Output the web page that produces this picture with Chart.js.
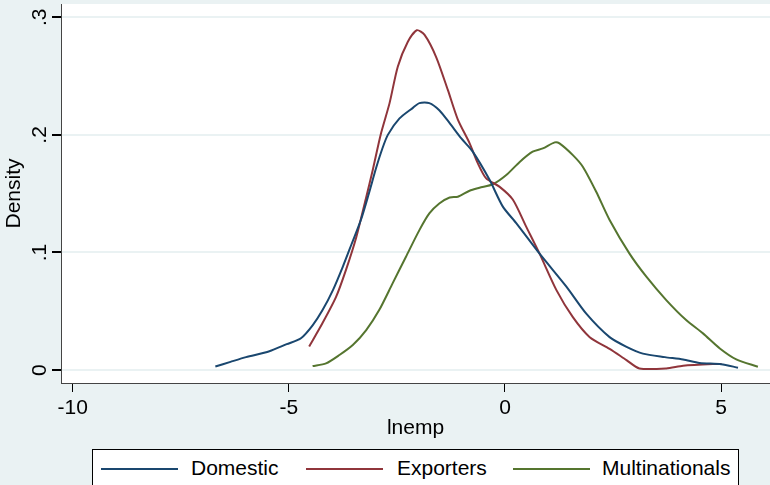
<!DOCTYPE html>
<html>
<head>
<meta charset="utf-8">
<script src="https://cdn.jsdelivr.net/npm/chart.js@4/dist/chart.umd.min.js"></script>
<style>
  html, body { margin: 0; padding: 0; background: #EAF2F3; }
  #wrap { position: relative; width: 770px; height: 485px; overflow: hidden; }
  #densityChart { position: absolute; left: 0; top: 0; }
  #legend {
    position: absolute; left: 92px; top: 449px; width: 647px; height: 50px;
    background: #fff; border: 1px solid #000; box-sizing: border-box;
    font-family: "Liberation Sans", Arial, sans-serif; font-size: 21px; color: #000;
  }
  .sw { position: absolute; top: 18px; width: 77px; height: 2px; }
  .lb { position: absolute; top: 6px; line-height: 24px; }
</style>
</head>
<body>
<div id="wrap">
  <canvas id="densityChart" width="770" height="485"></canvas>
  <div id="legend"></div>
</div>
<script>
/* ---------- data ---------- */
const seriesNames = ["Domestic", "Exporters", "Multinationals"];
const seriesColors = ["#1A476F", "#90353B", "#55752F"];

const xTicks = [-10, -5, 0, 5];
const yTicks = [0, 0.1, 0.2, 0.3];
const yTickLabels = ["0", ".1", ".2", ".3"];

const domesticX = [-6.70, -6.35, -5.99, -5.45, -5.05, -4.72, -4.45, -4.22, -3.98, -3.75, -3.55, -3.33, -3.15, -2.98, -2.84, -2.71, -2.44, -2.13, -1.98, -1.75, -1.52, -1.28, -1.01, -0.75, -0.36, -0.05, 0.26, 0.80, 1.42, 1.88, 2.42, 2.80, 3.19, 3.70, 4.12, 4.50, 5.00, 5.39];
const domesticY = [0.003, 0.007, 0.011, 0.016, 0.022, 0.027, 0.038, 0.051, 0.068, 0.088, 0.107, 0.128, 0.150, 0.172, 0.188, 0.200, 0.214, 0.223, 0.227, 0.227, 0.221, 0.210, 0.197, 0.186, 0.162, 0.139, 0.125, 0.099, 0.071, 0.048, 0.028, 0.020, 0.014, 0.011, 0.009, 0.006, 0.005, 0.002];

const exportersX = [-4.53, -4.22, -3.91, -3.68, -3.44, -3.21, -3.06, -2.87, -2.67, -2.48, -2.25, -2.04, -1.86, -1.59, -1.32, -1.09, -0.82, -0.63, -0.435, -0.13, 0.18, 0.49, 0.80, 1.19, 1.57, 1.96, 2.42, 2.81, 3.11, 3.73, 4.12, 4.81, 5.01];
const exportersY = [0.020, 0.040, 0.062, 0.085, 0.113, 0.147, 0.170, 0.201, 0.227, 0.258, 0.279, 0.289, 0.285, 0.266, 0.238, 0.213, 0.193, 0.176, 0.163, 0.156, 0.145, 0.122, 0.099, 0.068, 0.045, 0.028, 0.018, 0.0085, 0.0014, 0.0014, 0.0037, 0.0051, 0.0051];

const multiX = [-4.45, -4.14, -3.83, -3.52, -3.21, -2.91, -2.60, -2.29, -1.98, -1.75, -1.52, -1.28, -1.09, -0.82, -0.59, -0.28, 0.03, 0.34, 0.64, 0.875, 1.15, 1.26, 1.57, 1.80, 2.11, 2.42, 2.88, 3.27, 3.73, 4.19, 4.58, 4.97, 5.35, 5.85];
const multiY = [0.0034, 0.0057, 0.0128, 0.0213, 0.034, 0.051, 0.0737, 0.0964, 0.119, 0.1332, 0.1417, 0.1468, 0.1474, 0.1525, 0.155, 0.158, 0.1658, 0.177, 0.1857, 0.1885, 0.1936, 0.1928, 0.1828, 0.1729, 0.1516, 0.1276, 0.099, 0.0794, 0.0595, 0.0425, 0.0312, 0.0184, 0.0091, 0.0028];

const FONT = "'Liberation Sans', Arial, sans-serif";

function toPoints(xs, ys) {
  return xs.map((x, i) => ({ x: x, y: ys[i] }));
}

const allX = [domesticX, exportersX, multiX];
const allY = [domesticY, exportersY, multiY];

/* ---------- plugins ---------- */
// Stata style backdrop: tinted page, white plot region
const backdrop = {
  id: "backdrop",
  beforeDraw(chart) {
    const { ctx, chartArea: a } = chart;
    ctx.save();
    ctx.fillStyle = "#EAF2F3";
    ctx.fillRect(0, 0, chart.width, chart.height);
    ctx.fillStyle = "#ffffff";
    ctx.fillRect(a.left, a.top, a.right - a.left, a.bottom - a.top);
    ctx.restore();
  }
};

// vertical y tick labels (read bottom to top)
const yLabels = {
  id: "yLabels",
  afterDraw(chart) {
    const { ctx } = chart;
    const ys = chart.scales.y;
    ctx.save();
    ctx.font = "21px " + FONT;
    ctx.fillStyle = "#000";
    ctx.textAlign = "center";
    ctx.textBaseline = "alphabetic";
    yTicks.forEach((v, i) => {
      const py = ys.getPixelForValue(v);
      ctx.save();
      ctx.translate(46, py);
      ctx.rotate(-Math.PI / 2);
      ctx.fillText(yTickLabels[i], 0, 0);
      ctx.restore();
    });
    ctx.restore();
  }
};

/* ---------- chart ---------- */
const datasets = seriesNames.map((name, i) => ({
  label: name,
  data: toPoints(allX[i], allY[i]),
  borderColor: seriesColors[i],
  backgroundColor: seriesColors[i],
  borderWidth: 2,
  pointRadius: 0,
  showLine: true,
  tension: 0.25,
  fill: false
}));

new Chart(document.getElementById("densityChart"), {
  type: "scatter",
  data: { datasets: datasets },
  options: {
    responsive: false,
    animation: false,
    layout: { padding: { top: 4, left: 0, right: 0, bottom: 0 } },
    plugins: { legend: { display: false }, tooltip: { enabled: false } },
    scales: {
      x: {
        type: "linear",
        min: -10.27,
        max: 6.13,
        afterBuildTicks(s) { s.ticks = xTicks.map(v => ({ value: v })); },
        afterFit(s) { s.height = 102; },
        border: { color: "#444", width: 1 },
        grid: { drawOnChartArea: false, tickLength: 9, tickColor: "#000", lineWidth: 1 },
        ticks: {
          color: "#000", padding: 4, maxRotation: 0,
          font: { family: FONT, size: 21 },
          callback: v => String(v)
        },
        title: {
          display: true, text: "lnemp", color: "#000",
          font: { family: FONT, size: 21 },
          padding: { top: 0, bottom: 44 }
        }
      },
      y: {
        type: "linear",
        min: -0.011,
        max: 0.3113,
        afterBuildTicks(s) { s.ticks = yTicks.map(v => ({ value: v })); },
        afterFit(s) { s.width = 61; },
        border: { color: "#444", width: 1 },
        grid: { color: "#EAF2F3", lineWidth: 2, tickLength: 9, tickColor: "#000" },
        ticks: { display: false },
        title: {
          display: true, text: "Density", color: "#000",
          font: { family: FONT, size: 21 },
          padding: { top: 2, bottom: 0 }
        }
      }
    }
  },
  plugins: [backdrop, yLabels]
});

/* ---------- legend ---------- */
const legendSwatchLeft = [8, 213, 420];
const legendTextLeft = [98, 304, 509];
const legend = document.getElementById("legend");
seriesNames.forEach((name, i) => {
  const sw = document.createElement("div");
  sw.className = "sw";
  sw.style.left = legendSwatchLeft[i] + "px";
  sw.style.background = seriesColors[i];
  legend.appendChild(sw);
  const lb = document.createElement("div");
  lb.className = "lb";
  lb.style.left = legendTextLeft[i] + "px";
  lb.textContent = name;
  legend.appendChild(lb);
});
</script>
</body>
</html>
